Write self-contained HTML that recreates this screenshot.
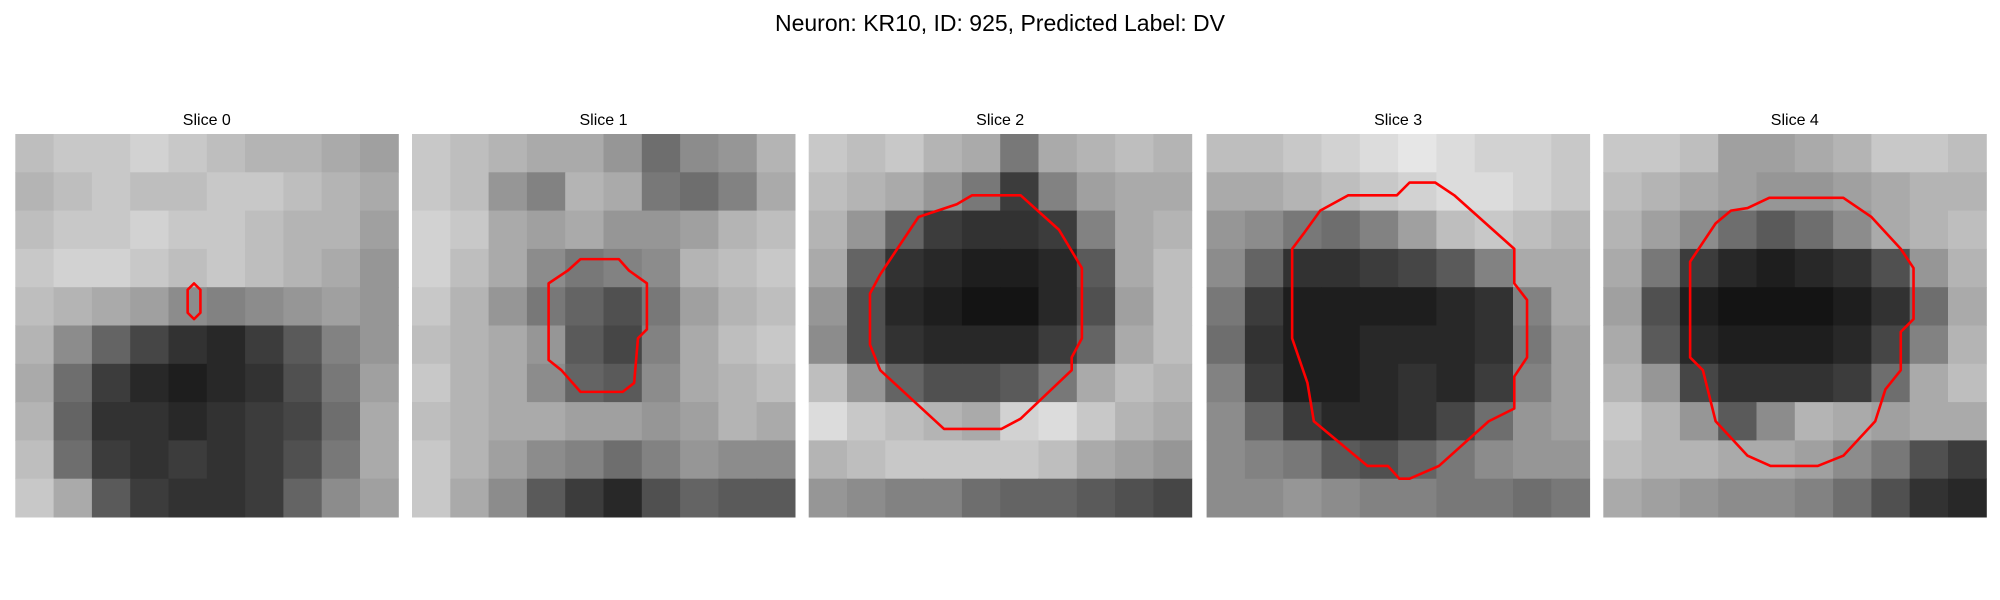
<!DOCTYPE html>
<html><head><meta charset="utf-8"><style>
html,body{margin:0;padding:0;background:#fff;width:2000px;height:600px;overflow:hidden}
svg{display:block}
text{font-family:"Liberation Sans","DejaVu Sans",sans-serif;fill:#000}
</style></head><body>
<svg id="fig" width="2000" height="600" viewBox="0 0 2000 600">
<text x="1000" y="31" text-anchor="middle" font-size="23">Neuron: KR10, ID: 925, Predicted Label: DV</text>
</svg>
<script>
const sliceTitles = ["Slice 0","Slice 1","Slice 2","Slice 3","Slice 4"];
const intens0 = [
[190,200,200,210,200,190,180,180,170,160],
[180,190,200,190,190,200,200,190,180,170],
[190,200,200,210,200,200,190,180,180,160],
[200,210,210,200,190,200,190,180,170,150],
[190,180,170,160,140,130,140,150,160,150],
[180,140,100,70,50,40,60,90,130,150],
[170,110,60,40,30,40,50,80,120,160],
[180,100,50,50,40,50,60,70,110,170],
[190,110,60,50,60,50,60,80,120,170],
[200,170,90,60,50,50,60,100,140,160]];
const intens1 = [
[200,190,180,170,170,150,110,140,150,180],
[200,190,150,130,180,170,120,110,130,170],
[210,200,170,160,170,150,150,160,180,190],
[210,190,170,140,120,130,140,180,190,200],
[200,180,150,120,100,80,120,160,180,190],
[190,180,170,150,90,70,130,170,190,200],
[200,180,170,140,100,90,140,170,180,190],
[190,180,170,170,160,160,150,160,180,170],
[200,180,160,140,130,110,130,150,140,140],
[200,170,140,90,60,40,80,100,90,90]];
const intens2 = [
[200,190,200,180,170,120,170,180,190,180],
[190,180,170,150,120,60,130,160,170,170],
[180,150,100,60,50,50,60,130,170,180],
[170,100,50,40,30,30,40,90,170,190],
[150,80,40,30,20,20,40,80,160,190],
[140,80,50,40,40,40,60,100,170,190],
[190,150,100,80,80,90,120,170,190,180],
[220,200,190,180,170,210,220,200,180,170],
[180,190,200,200,200,200,190,170,160,150],
[150,140,130,130,110,100,100,90,80,70]];
const intens3 = [
[190,190,200,210,220,230,220,210,210,200],
[170,170,180,190,200,210,220,220,210,200],
[150,140,120,110,130,160,190,200,190,180],
[140,100,50,50,60,70,90,130,170,170],
[120,60,30,30,30,30,40,50,130,170],
[110,50,30,30,40,40,40,50,120,160],
[130,60,30,30,40,50,40,60,130,160],
[140,100,60,40,40,50,70,110,150,160],
[140,130,120,90,80,100,120,140,150,150],
[140,140,150,140,130,130,120,120,110,120]];
const intens4 = [
[200,200,190,160,160,170,180,200,200,190],
[190,180,170,160,150,150,160,170,180,180],
[180,160,140,110,90,110,140,170,180,190],
[170,120,60,40,30,40,50,80,150,180],
[160,80,30,20,20,20,30,50,110,170],
[170,90,40,30,30,30,40,70,130,180],
[180,150,70,50,50,50,60,110,170,190],
[200,180,150,90,140,180,170,160,170,170],
[190,180,180,170,170,160,140,120,80,60],
[170,160,150,140,140,130,110,80,50,40]];
const contour0 = [[13.5,12.2],[14,11.7],[14.5,12.2],[14.5,14],[14,14.5],[13.5,14]];
const contour1 = [[10.7,11.7],[12.2,10.7],[13.2,9.8],[16.2,9.8],[17,10.7],[18.4,11.7],[18.4,15.3],[17.7,16],[17.4,19.5],[16.5,20.2],[13.2,20.2],[11.7,18.5],[10.7,17.7]];
const contour2 = [[12.8,4.8],[16.6,4.8],[19.6,7.5],[21.4,10.5],[21.4,16],[20.6,17.5],[20.6,18.5],[16.6,22.3],[15.1,23.1],[10.6,23.1],[5.6,18.5],[4.8,16.5],[4.8,12.5],[5.6,11],[8.6,6.5],[10.1,6],[11.6,5.5]];
const contour3 = [[7.6,7.8],[8.9,6],[11.1,4.8],[14.9,4.8],[15.9,3.8],[17.9,3.8],[19.4,4.8],[24.1,9],[24.1,11.7],[25.1,13],[25.1,17.5],[24.1,19],[24.1,21.5],[22.1,22.5],[18.2,26],[15.9,27],[15.1,27],[14.2,26],[12.6,26],[8.4,22.5],[7.9,19.5],[6.7,16],[6.7,9]];
const contour4 = [[8.8,7],[10,6],[11.3,5.8],[13,5],[18.8,5],[21,6.5],[23.3,9],[24.3,10.5],[24.3,14.5],[23.3,15.5],[23.3,18.5],[22.1,20],[21.3,22.5],[18.8,25.2],[16.8,26],[13.1,26],[11.3,25.2],[8.8,22.5],[7.8,18.5],[6.8,17.5],[6.8,10]];

const intensities=[intens0,intens1,intens2,intens3,intens4];
const contours=[contour0,contour1,contour2,contour3,contour4];
const NS="http://www.w3.org/2000/svg";
const svg=document.getElementById('fig');
const panelX=[15.3,412,808.7,1206.6,1603.3], panelY=134, panelW=383, gridN=30;
function sx(p,v){return panelX[p]+v/gridN*panelW;}
function sy(v){return panelY+v/gridN*panelW;}
for(let p=0;p<5;p++){
  const g=document.createElementNS(NS,'g');
  
  
  svg.appendChild(g);
  const t=document.createElementNS(NS,'text');
  t.setAttribute('x',panelX[p]+panelW/2);t.setAttribute('y',125);
  t.setAttribute('text-anchor','middle');t.setAttribute('font-size','16');
  t.textContent=sliceTitles[p];
  
  
  g.appendChild(t);
  const M=intensities[p], n=M.length, step=gridN/n;
  for(let r=0;r<n;r++)for(let c=0;c<M[r].length;c++){
    const v=M[r][c];
    const rc=document.createElementNS(NS,'rect');
    const x0=sx(p,c*step),x1=sx(p,(c+1)*step),y0=sy(r*step),y1=sy((r+1)*step);
    rc.setAttribute('x',x0);rc.setAttribute('y',y0);
    rc.setAttribute('width',x1-x0+0.5);rc.setAttribute('height',y1-y0+0.5);
    rc.setAttribute('fill',`rgb(${v},${v},${v})`);
    
    
    g.appendChild(rc);
  }
  const pl=document.createElementNS(NS,'polygon');
  pl.setAttribute('points',contours[p].map(q=>sx(p,q[0])+','+sy(q[1])).join(' '));
  pl.setAttribute('fill','none');pl.setAttribute('stroke','#ff0000');pl.setAttribute('stroke-width','2.6');
  pl.setAttribute('stroke-linejoin','round');
  
  
  g.appendChild(pl);
}
</script>
</body></html>
